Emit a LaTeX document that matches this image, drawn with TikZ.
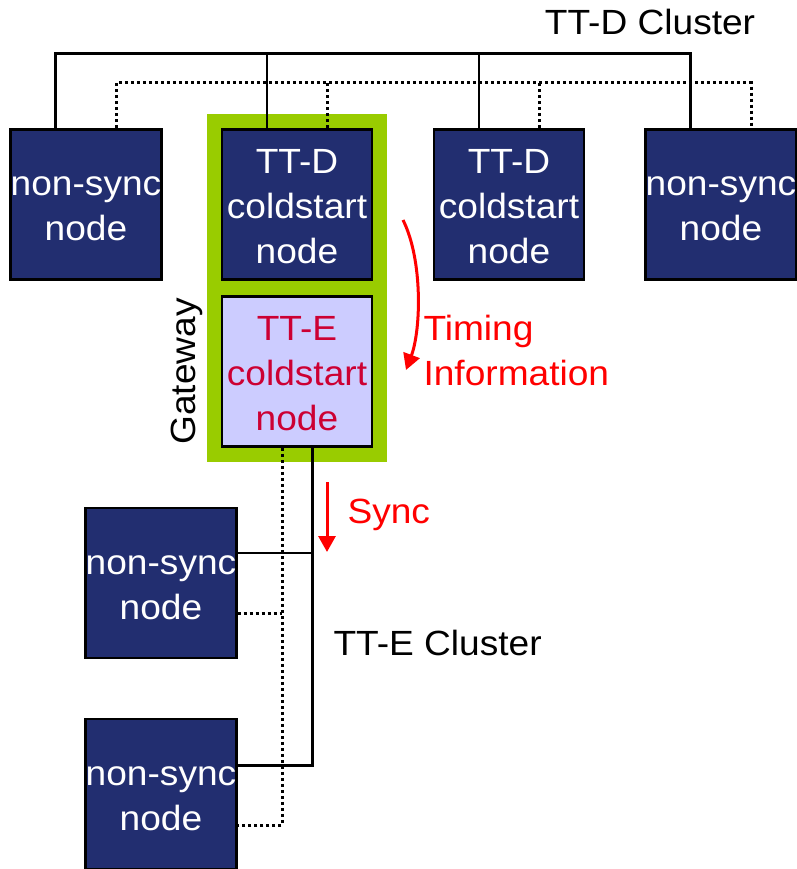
\documentclass[tikz,border=0pt]{standalone}
\usepackage{fontspec}
\setmainfont[FakeStretch=1.06]{Liberation Sans}
\usetikzlibrary{arrows.meta,fit,backgrounds}
\definecolor{ecublue}{RGB}{34,46,112}
\definecolor{tteback}{RGB}{204,204,255}
\definecolor{ttetext}{RGB}{204,0,51}
\definecolor{gwgreen}{RGB}{153,204,0}
\newcommand{\capstrut}{\rule{0pt}{28pt}} % same first line height in every box

\begin{document}
\begin{tikzpicture}[
  x=1pt, y=-1pt,
  ecu/.style={
    draw=black, line width=2.5pt,
    fill=ecublue, text=white,
    minimum width=150pt, minimum height=150pt,
    inner sep=0pt, % long words may touch the border
    align=center, font=\fontsize{35}{45}\selectfont
  },
  tte/.style={ecu, fill=tteback, text=ttetext},
  lbl/.style={font=\fontsize{35}{45}\selectfont, align=left},
  bus/.style={line width=3pt},
  tap/.style={line width=2pt},
  dotbus/.style={line width=3pt, dash pattern=on 3pt off 3pt},
  sig/.style={red, line width=3pt, -{Triangle[width=17pt,length=16pt]}}
]
\useasboundingbox (0,0) rectangle (796,869);

% --- TT-D cluster ---
\node[ecu] (nd1) at (86,204.5) {\capstrut non-sync\\node};
\node[ecu] (cd1) at (297,204.5) {\capstrut TT-D\\coldstart\\node};
\node[ecu] (cd2) at (509,204.5) {\capstrut TT-D\\coldstart\\node};
\node[ecu] (nd2) at (721,204.5) {\capstrut non-sync\\node};
\node[lbl] (tdname) at (650,22) {TT-D Cluster};

\coordinate (dbus) at (0,54);
\coordinate (dline) at (0,83);

\draw[bus] ([xshift=-31pt]nd1.north) |- ([xshift=-31pt]nd2.north |- dbus)
  -- ([xshift=-31pt]nd2.north);
\foreach \n in {cd1,cd2}
  \draw[tap] ([xshift=-30pt]\n.north) -- ([xshift=-30pt]\n.north |- dbus);

\draw[dotbus] ([xshift=30pt]nd1.north) |- ([xshift=30pt]nd2.north |- dline)
  -- ([xshift=30pt]nd2.north);
\foreach \n in {cd1,cd2}
  \draw[dotbus] ([xshift=30pt]\n.north) -- ([xshift=30pt]\n.north |- dline);

% --- Gateway ---
\node[tte] (ce) at (297,371.5) {\capstrut TT-E\\coldstart\\node};
\begin{scope}[on background layer]
  \node[fill=gwgreen, inner sep=14pt, fit=(cd1)(ce)] (gw) {};
\end{scope}
\node[lbl, rotate=90, anchor=south, inner sep=4pt] (gwname) at (gw.west |- ce.center) {Gateway};

\coordinate (tA) at (403,220);
\coordinate (tB) at (406,370);
\draw[sig] (tA) .. controls (423,260) and (421,330) .. (tB);
\node[lbl, red, anchor=west] (tname) at (420,350) {Timing\\Information};

% --- TT-E cluster ---
\node[ecu] (ne1) at (161,583) {\capstrut non-sync\\node};
\node[ecu] (ne2) at (161,794) {\capstrut non-sync\\node};
\node[lbl, anchor=west] (tename) at (330,643) {TT-E Cluster};

\coordinate (ebus) at ([xshift=15pt]ce.south);
\coordinate (eline) at ([xshift=-15pt]ce.south);
\draw[bus] (ebus) |- ([yshift=29pt]ne2.east);
\draw[tap] ([yshift=30pt]ne1.east) -- ([yshift=30pt]ne1.east -| ebus);
\draw[dotbus] (eline) |- ([yshift=-31pt]ne2.east);
\draw[dotbus] ([yshift=-30pt]ne1.east) -- ([yshift=-30pt]ne1.east -| eline);

\coordinate (sA) at (327,482);
\coordinate (sB) at (327,552);
\draw[sig] (sA) -- (sB);
\node[lbl, red, anchor=west] (syncname) at (344,515) {Sync};

\end{tikzpicture}
\end{document}
